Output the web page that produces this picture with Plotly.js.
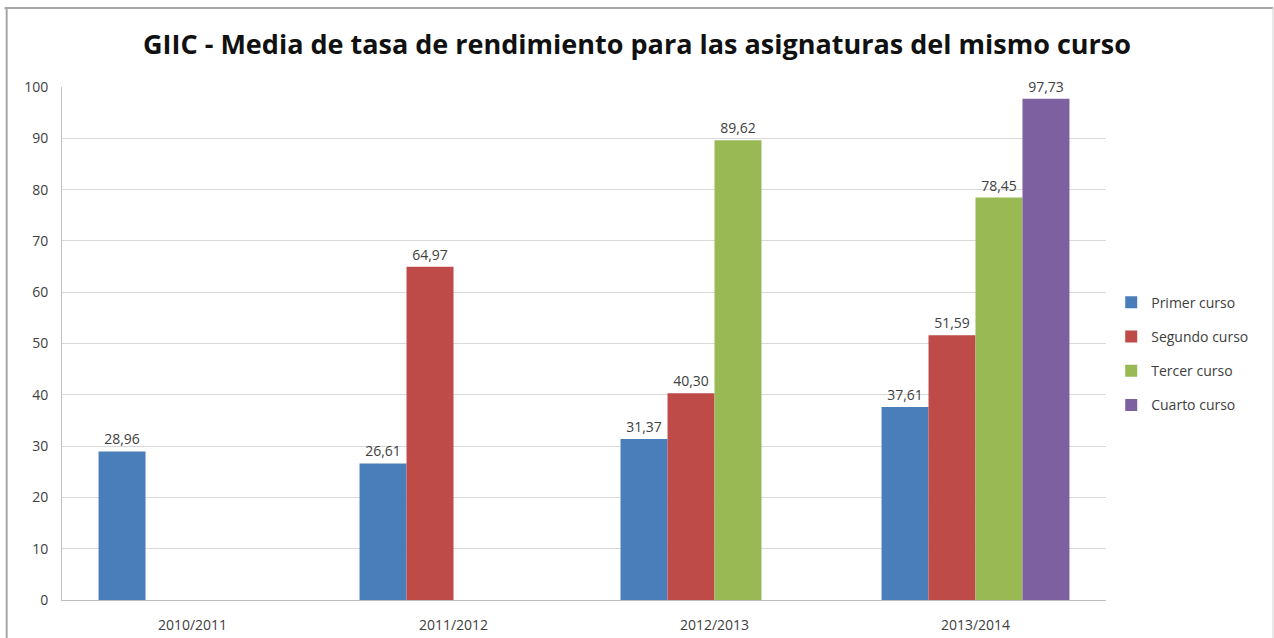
<!DOCTYPE html>
<html>
<head>
<meta charset="utf-8">
<script src="https://cdn.plot.ly/plotly-3.0.1.min.js"></script>
<style>
  html, body { margin: 0; padding: 0; background: #fff; }
  #chart { width: 1274px; height: 638px; }
</style>
</head>
<body>
<div id="chart"></div>
<script>
// cursos academicos (categorias del eje x)
var years = ['2010/2011', '2011/2012', '2012/2013', '2013/2014'];

// media de tasa de rendimiento por curso (null = sin dato)
var primer  = [28.96, 26.61, 31.37, 37.61];
var segundo = [null, 64.97, 40.30, 51.59];
var tercer  = [null, null, 89.62, 78.45];
var cuarto  = [null, null, null, 97.73];

var names  = ['Primer curso', 'Segundo curso', 'Tercer curso', 'Cuarto curso'];
var colors = ['#4a7ebb', '#be4b48', '#98b954', '#7d60a0'];

var data = [primer, segundo, tercer, cuarto].map(function (vals, i) {
    return {
        type: 'bar',
        name: names[i],
        legendgroup: 'g' + i,
        x: years,
        y: vals,
        marker: { color: colors[i], line: { width: 0 } },
        text: vals.map(function (v) { return v == null ? '' : v.toFixed(2).replace('.', ','); }),
        textposition: 'outside',
        textfont: { family: 'Open Sans, sans-serif', size: 14, color: '#404040' },
        cliponaxis: false,
        hoverinfo: 'x+y+name'
    };
});

var layout = {
    width: 1274,
    height: 638,
    paper_bgcolor: '#ffffff',
    plot_bgcolor: '#ffffff',
    margin: { l: 62, r: 168, t: 87, b: 38 },
    font: { family: 'Open Sans, sans-serif', color: '#404040', size: 14 },
    title: {
        text: '<b>GIIC - Media de tasa de rendimiento para las asignaturas del mismo curso</b>',
        font: { family: 'Open Sans, sans-serif', size: 27, color: '#111111' },
        x: 0.5,
        xanchor: 'center',
        y: 0.93,
        yanchor: 'middle'
    },
    barmode: 'group',
    bargap: 0.28,
    bargroupgap: 0,
    xaxis: {
        type: 'category',
        showgrid: false,
        showline: true,
        linecolor: '#bfbfbf',
        linewidth: 1,
        ticks: 'outside',
        ticklen: 12,
        tickcolor: 'rgba(0,0,0,0)',
        tickfont: { size: 14, color: '#404040' },
        automargin: false
    },
    yaxis: {
        range: [0, 100],
        dtick: 10,
        showgrid: true,
        gridcolor: '#d9d9d9',
        gridwidth: 1,
        zeroline: false,
        showline: true,
        linecolor: '#bfbfbf',
        linewidth: 1,
        ticks: 'outside',
        ticklen: 10,
        tickcolor: 'rgba(0,0,0,0)',
        tickfont: { size: 14, color: '#404040' },
        automargin: false
    },
    legend: {
        x: 1.005,
        xanchor: 'left',
        y: 0.48,
        yanchor: 'middle',
        font: { size: 14, color: '#404040' },
        itemwidth: 30,
        traceorder: 'grouped',
        tracegroupgap: 13,
        bgcolor: 'rgba(0,0,0,0)'
    },
    showlegend: true,
    // marco gris de la imagen original
    shapes: [
        { type: 'line', xref: 'paper', yref: 'paper', x0: -0.055, x1: 1.16, y0: 1.154, y1: 1.154, line: { color: '#a6a6a6', width: 2 } },
        { type: 'line', xref: 'paper', yref: 'paper', x0: -0.053, x1: -0.053, y0: -0.08, y1: 1.154, line: { color: '#a6a6a6', width: 2 } },
        { type: 'line', xref: 'paper', yref: 'paper', x0: 1.160, x1: 1.160, y0: -0.08, y1: 1.154, line: { color: '#d0d0d0', width: 1 } }
    ]
};

Plotly.newPlot('chart', data, layout, { displayModeBar: false, staticPlot: true });
</script>
</body>
</html>
